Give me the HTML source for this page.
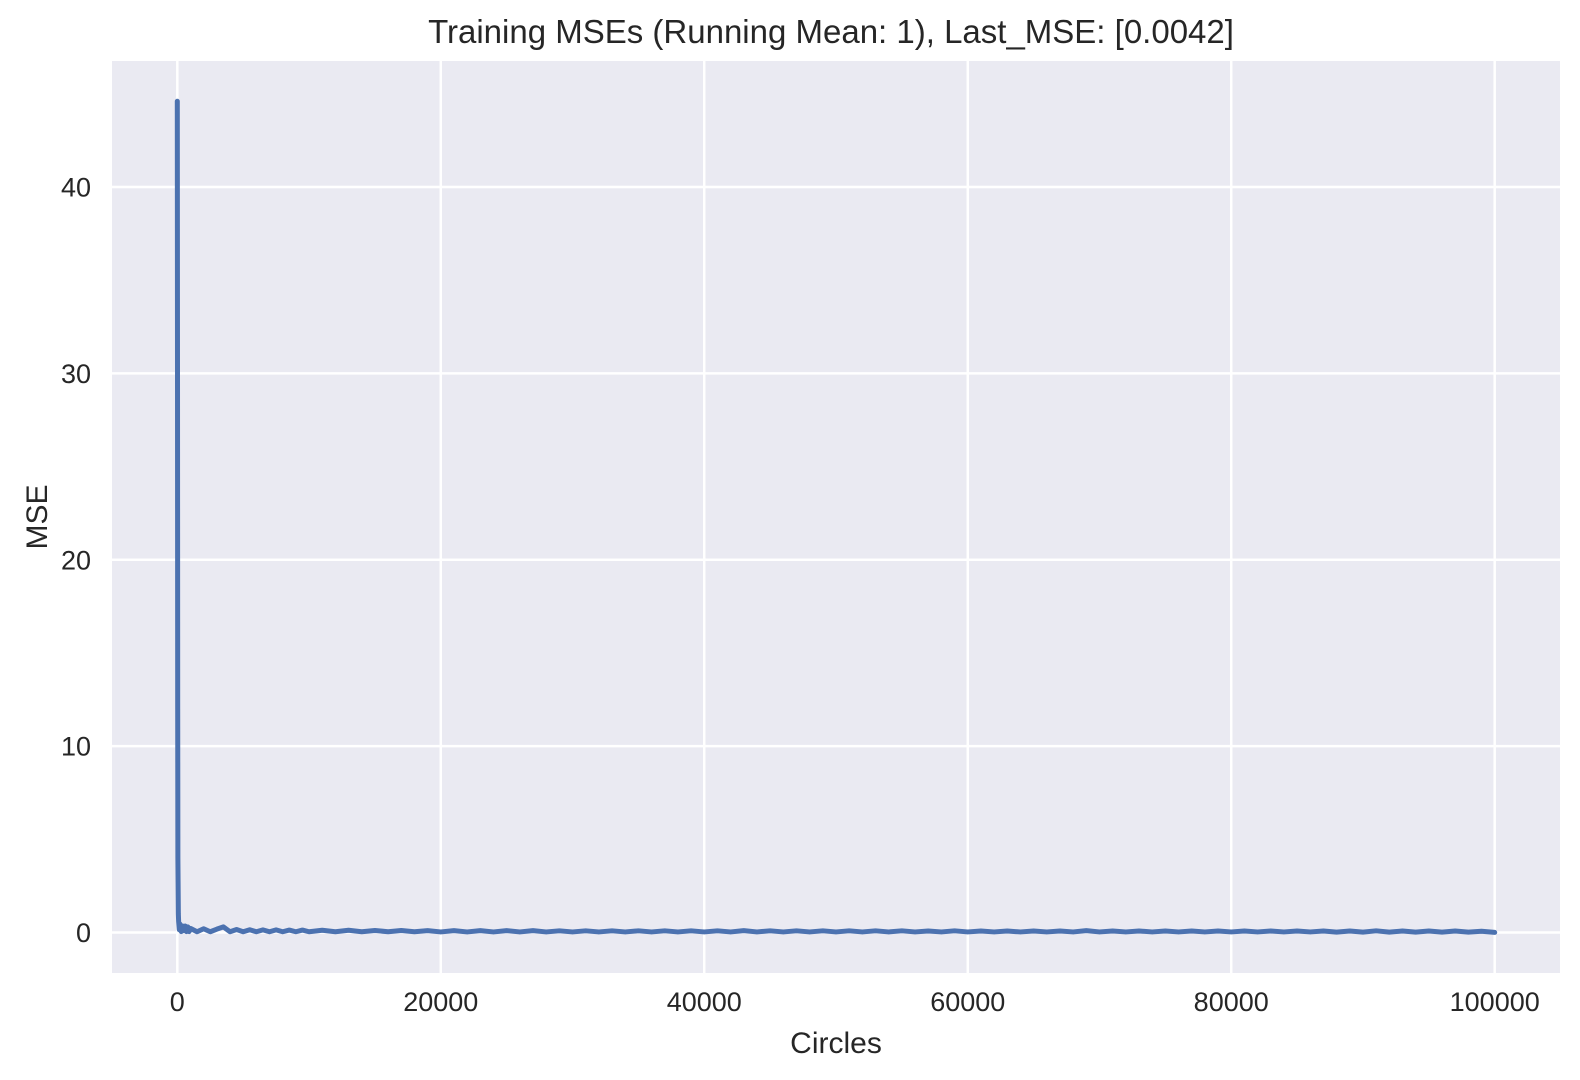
<!DOCTYPE html>
<html><head><meta charset="utf-8"><style>
html,body{margin:0;padding:0;background:#fff;}
svg{display:block;font-family:"Liberation Sans",sans-serif;}
</style></head><body>
<svg id="chart" width="1580" height="1080" viewBox="0 0 1580 1080">
<rect x="112" y="61" width="1448" height="912" fill="#eaeaf2"/>
<g id="grid"></g><g id="ticks"></g><g id="series"></g>
<text x="831" y="43" text-anchor="middle" font-size="33" fill="#262626">Training MSEs (Running Mean: 1), Last_MSE: [0.0042]</text>
<text x="836" y="1053" text-anchor="middle" font-size="30" fill="#262626">Circles</text>
<text transform="translate(47,517) rotate(-90)" text-anchor="middle" font-size="30" fill="#262626">MSE</text>
</svg>
<script>
const xTicks=[0,20000,40000,60000,80000,100000];
const yTicks=[0,10,20,30,40];
const headX=[0,15,30,45,60,80,100,150,200,300,400,500,600,700,800,900];
const headY=[44.6,30,12,4,2.7,1.0,0.6,0.15,0.45,0.05,0.35,0.1,0.35,0.05,0.3,0.05];
const bodyX=[1000,1500,2000,2500,3000,3500,4000,4500,5000,5500,6000,6500,7000,7500,8000,8500,9000,9500,10000,11000,12000,13000,14000,15000,16000,17000,18000,19000,20000,21000,22000,23000,24000,25000,26000,27000,28000,29000,30000,31000,32000,33000,34000,35000,36000,37000,38000,39000,40000,41000,42000,43000,44000,45000,46000,47000,48000,49000,50000,51000,52000,53000,54000,55000,56000,57000,58000,59000,60000,61000,62000,63000,64000,65000,66000,67000,68000,69000,70000,71000,72000,73000,74000,75000,76000,77000,78000,79000,80000,81000,82000,83000,84000,85000,86000,87000,88000,89000,90000,91000,92000,93000,94000,95000,96000,97000,98000,99000,100000];
const bodyY=[0.22,0.04,0.2,0.04,0.18,0.3,0.04,0.16,0.04,0.15,0.04,0.14,0.04,0.14,0.04,0.13,0.04,0.13,0.04,0.12,0.04,0.12,0.04,0.11,0.04,0.11,0.04,0.1,0.03,0.1,0.03,0.1,0.03,0.1,0.03,0.1,0.03,0.09,0.03,0.09,0.03,0.09,0.03,0.09,0.03,0.09,0.03,0.09,0.03,0.09,0.03,0.1,0.03,0.09,0.03,0.09,0.03,0.09,0.03,0.09,0.03,0.09,0.03,0.09,0.03,0.08,0.03,0.09,0.03,0.08,0.03,0.08,0.03,0.08,0.03,0.08,0.03,0.1,0.03,0.08,0.03,0.08,0.03,0.08,0.03,0.08,0.03,0.08,0.03,0.08,0.03,0.08,0.03,0.08,0.03,0.08,0.02,0.08,0.02,0.09,0.02,0.08,0.02,0.08,0.02,0.08,0.02,0.07,0.0042];
const sx=v=>177.3+v*(1317.4/100000);
const sy=v=>932.5-v*(745.5/40);
const NS="http://www.w3.org/2000/svg";
const grid=document.getElementById('grid'),ticks=document.getElementById('ticks'),series=document.getElementById('series');
function mk(tag,attrs,parent){const e=document.createElementNS(NS,tag);for(const k in attrs)e.setAttribute(k,attrs[k]);parent.appendChild(e);return e;}
xTicks.forEach(t=>{
 const l=mk('line',{x1:sx(t),x2:sx(t),y1:61,y2:973,stroke:'#fff','stroke-width':2.5},grid);
 
 
 const tx=mk('text',{x:sx(t),y:1011,'text-anchor':'middle','font-size':27,fill:'#262626'},ticks);
 tx.textContent=t;
 
 
});
yTicks.forEach(t=>{
 const l=mk('line',{x1:112,x2:1560,y1:sy(t),y2:sy(t),stroke:'#fff','stroke-width':2.5},grid);
 
 
 const tx=mk('text',{x:91,y:sy(t)+9.5,'text-anchor':'end','font-size':27,fill:'#262626'},ticks);
 tx.textContent=t;
 
 
});
const xs=headX.concat(bodyX),ys=headY.concat(bodyY);
const d=xs.map((x,i)=>(i?'L':'M')+sx(x).toFixed(2)+','+sy(ys[i]).toFixed(2)).join('');
const p=mk('path',{d:d,fill:'none',stroke:'#4c72b0','stroke-width':5,'stroke-linejoin':'round','stroke-linecap':'round'},series);


</script>
</body></html>
